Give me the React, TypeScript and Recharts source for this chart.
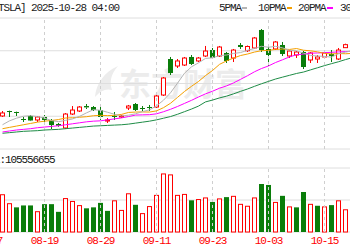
import { ComposedChart, Bar, Line, XAxis, YAxis, CartesianGrid, ReferenceLine } from "recharts";

// trading days shown (two leading days only carry the first axis label)
const leadDates = ["08-07", "08-08"];
const dates = [
  "08-11", "08-12", "08-13", "08-14", "08-15", "08-18", "08-19", "08-20", "08-21", "08-22",
  "08-25", "08-26", "08-27", "08-28", "08-29", "09-02", "09-03", "09-04", "09-05", "09-08",
  "09-09", "09-10", "09-11", "09-12", "09-15", "09-16", "09-17", "09-18", "09-19", "09-22",
  "09-23", "09-24", "09-25", "09-26", "09-29", "09-30", "10-01", "10-02", "10-03", "10-06",
  "10-07", "10-08", "10-09", "10-10", "10-13", "10-14", "10-15", "10-16", "10-17", "10-20",
  "10-21",
];
const tickDates = ["08-07", "08-19", "08-29", "09-11", "09-23", "10-03", "10-15"];

const opens = [
  330.4, 338.0, 336.5, 325.8, 330.4, 324.3, 328.9, 324.3, 318.2, 312.1,
  333.4, 338.0, 345.6, 344.1, 339.5, 322.7, 330.4, 328.9, 342.6, 348.7,
  342.6, 344.1, 344.1, 362.4, 417.4, 406.7, 408.2, 420.5, 414.4, 422.0,
  431.1, 422.0, 426.6, 418.9, 438.8, 430.0, 434.2, 461.7, 432.7, 432.7,
  438.8, 422.0, 423.5, 428.1, 415.9, 417.4, 420.5, 425.0, 417.4, 434.7,
  437.3,
];
const highs = [
  338.0, 338.5, 337.0, 328.9, 331.9, 330.4, 331.9, 325.8, 319.7, 334.9,
  345.6, 345.6, 348.7, 345.6, 344.1, 327.3, 336.5, 331.9, 347.2, 350.2,
  345.6, 347.2, 362.4, 389.9, 420.5, 417.4, 420.5, 423.5, 420.5, 437.3,
  434.2, 437.3, 428.1, 432.7, 441.8, 438.0, 451.0, 463.2, 435.7, 444.9,
  443.4, 431.1, 429.6, 429.6, 428.1, 423.5, 428.1, 431.1, 434.2, 440.8,
  440.3,
];
const lows = [
  328.9, 328.9, 330.4, 321.2, 322.7, 321.2, 319.7, 310.5, 314.0, 310.5,
  331.9, 336.5, 341.1, 338.0, 324.3, 319.7, 324.3, 327.3, 339.5, 338.0,
  338.0, 338.0, 342.6, 360.9, 393.0, 403.7, 406.7, 408.2, 412.8, 420.5,
  417.4, 420.5, 411.3, 412.8, 432.7, 428.1, 432.7, 428.1, 406.7, 431.1,
  422.0, 418.9, 418.9, 402.1, 411.3, 411.3, 419.0, 412.8, 415.9, 434.2,
  428.1,
];
const closes = [
  335.0, 336.5, 335.0, 324.3, 323.5, 328.9, 324.3, 316.6, 315.5, 333.4,
  339.5, 344.1, 343.5, 339.5, 328.9, 324.3, 328.9, 330.4, 345.6, 339.5,
  341.1, 342.6, 360.9, 388.4, 396.0, 414.4, 418.9, 409.8, 418.9, 429.6,
  418.9, 435.7, 414.4, 431.1, 435.7, 436.5, 449.5, 431.1, 423.5, 443.4,
  425.0, 429.6, 428.1, 405.2, 426.6, 420.5, 426.6, 422.0, 431.1, 439.3,
  431.1,
];
// volume, millions of shares
const volumes = [
  118, 90, 77, 83, 83, 65, 87, 87, 63, 106,
  97, 84, 74, 77, 91, 66, 99, 69, 121, 85,
  59, 81, 116, 183, 180, 116, 119, 99, 103, 108,
  94, 105, 109, 113, 88, 82, 108, 150, 147, 94,
  113, 80, 77, 125, 88, 82, 80, 84, 99, 71,
  33,
];
const ma5 = [
  317, 323, 327, 330, 330.8, 329.5, 327.1, 323.4, 321.7, 323.7,
  325.9, 329.8, 335.2, 340, 339.1, 336.1, 333, 330.4, 331.6, 333.7,
  337.1, 339.8, 345.9, 354.5, 365.8, 380.5, 395.7, 405.5, 411.6, 418.3,
  419.2, 422.6, 423.5, 425.9, 427.2, 430.7, 433.4, 436.8, 435.3, 436.8,
  434.5, 430.5, 429.9, 426.3, 422.9, 422, 421.4, 420.2, 425.4, 427.9,
  430,
];
const ma10 = [
  311, 313, 315, 317, 319, 321, 322.5, 323.5, 325, 327.3,
  327.7, 328.5, 329.3, 330.8, 331.4, 331, 331.4, 332.8, 335.8, 336.4,
  336.6, 336.4, 338.2, 343.1, 349.8, 358.8, 367.8, 375.7, 383.1, 392.1,
  399.8, 409.2, 414.5, 418.8, 422.7, 425, 428, 430.1, 430.6, 432,
  432.6, 432, 433.4, 430.8, 429.9, 428.3, 426, 425.1, 425.8, 425.4,
  426,
];
const ma20 = [
  306, 307.5, 309, 310, 311, 312.5, 313.5, 314.5, 315.5, 317,
  318.5, 320, 321.5, 322.5, 323, 324.5, 326, 327.5, 329.5, 331.8,
  332.1, 332.4, 333.7, 336.9, 340.6, 344.9, 349.6, 354.3, 359.4, 364.2,
  368.2, 372.8, 376.3, 380.9, 386.3, 391.9, 397.9, 402.9, 406.8, 412,
  416.2, 420.6, 423.9, 424.8, 426.3, 426.6, 427, 427.6, 428.2, 428.7,
  429.3,
];
const ma30 = [
  304, 305, 306, 307, 307.5, 308, 309, 309.5, 310, 311,
  312, 313, 314, 315, 315.5, 316, 316.5, 317, 318, 319.5,
  321, 322.5, 324.5, 327, 329.5, 333, 337, 341, 345.5, 351.9,
  354.7, 358, 360.7, 364.2, 368, 371.6, 375.7, 379.6, 383.2, 386.8,
  389.7, 392.5, 395.3, 397.5, 400.8, 404, 407.3, 410.3, 413.2, 416.5,
  419.5,
];

const priceTicks = [280, 305, 330, 355, 380, 405, 430, 455, 480];
const volTicks = [0, 50, 100, 150, 200];

const RED = "#ff0000";
const GREEN = "#0a7d0a";
const GRID = "#dedede";
const FONT = "'Liberation Mono', monospace";

const data = [
  ...leadDates.map((date) => ({ date } as any)),
  ...dates.map((date, i) => ({
    date,
    open: opens[i],
    high: highs[i],
    low: lows[i],
    close: closes[i],
    range: [lows[i], highs[i]],
    vol: volumes[i],
    volUp: closes[i] >= (i > 0 ? closes[i - 1] : opens[i]),
    ma5: ma5[i],
    ma10: ma10[i],
    ma20: ma20[i],
    ma30: ma30[i],
  })),
];

const CHART_W = data.length * 7;

function Candle(props: any) {
  const { x, y, width, height, payload } = props;
  if (!payload || payload.open == null) return null;
  const { open, close, high, low } = payload;
  const span = high - low || 1;
  const py = (v: number) => y + ((high - v) / span) * height;
  const cx = x + width / 2;
  const up = close >= open;
  const color = up ? RED : GREEN;
  const top = py(Math.max(open, close));
  const bh = Math.max(py(Math.min(open, close)) - top, 1);
  return (
    <g>
      <line x1={cx} x2={cx} y1={y} y2={top} stroke={color} />
      <line x1={cx} x2={cx} y1={top + bh} y2={y + height} stroke={color} />
      {up ? (
        <rect x={cx - 2} y={top} width={4} height={bh} fill="#fff" stroke={color} />
      ) : (
        <rect x={cx - 2.5} y={top} width={5} height={bh} fill={color} />
      )}
    </g>
  );
}

function VolBar(props: any) {
  const { x, y, width, height, payload } = props;
  if (!payload || payload.vol == null) return null;
  const cx = x + width / 2;
  if (payload.volUp)
    return <rect x={cx - 2} y={y + 0.5} width={4} height={height - 0.5} fill="#fff" stroke={RED} />;
  return <rect x={cx - 2.5} y={y} width={5} height={height} fill={GREEN} />;
}

function DateTick({ x, y, payload }: any) {
  return (
    <text x={x} y={y} dy={10} textAnchor="middle" fill={RED} fontSize={11} fontFamily={FONT} letterSpacing={-1.1}>
      {payload.value}
    </text>
  );
}

const txt = { position: "absolute", fontFamily: FONT, fontSize: 11, letterSpacing: "-1.1px", whiteSpace: "pre", lineHeight: "11px" } as const;

export default function App() {
  return (
    <div style={{ position: "absolute", left: 0, top: 0, width: 350, height: 250, overflow: "hidden", background: "#fff" }}>
      <svg style={{ position: "absolute", left: 0, top: 0 }} width={350} height={250}>
        <path d="M95 97 C96 84 104 72 118 66 C111 74 109 82 112 90 C106 88 100 91 95 97 Z" fill="#ececec" />
        <text x={119} y={96} fontSize={32} fontWeight="bold" fill="#ececec" fontFamily="'Noto Sans CJK SC'">东方财富</text>
      </svg>

      <div style={{ ...txt, left: -7.5, top: 3, color: "#222" }}>[TSLA] 2025-10-28 04:00</div>
      <div style={{ ...txt, left: 219, top: 3, color: "#222" }}>5PMA</div>
      <div style={{ position: "absolute", left: 242, top: 7, width: 5, height: 2, background: "#b4b4b4" }} />
      <div style={{ ...txt, left: 258, top: 3, color: "#222" }}>10PMA</div>
      <div style={{ position: "absolute", left: 287, top: 7, width: 5, height: 2, background: "#f5a000" }} />
      <div style={{ ...txt, left: 298, top: 3, color: "#222" }}>20PMA</div>
      <div style={{ position: "absolute", left: 327, top: 7, width: 6, height: 2, background: "#ff00ff" }} />
      <div style={{ ...txt, left: 340, top: 3, color: "#222" }}>30PMA</div>

      <div style={{ position: "absolute", left: -15, top: 17 }}>
        <ComposedChart width={CHART_W} height={133} data={data} margin={{ top: 1, right: 0, bottom: 1, left: 0 }}>
          <CartesianGrid vertical={false} stroke={GRID} />
          <XAxis dataKey="date" hide />
          <YAxis domain={[280, 480]} ticks={priceTicks} hide />
          {tickDates.map((d) => (
            <ReferenceLine key={d} x={d} stroke="#cfcfcf" strokeDasharray="3 3" />
          ))}
          <Line dataKey="ma30" stroke="#1e8c46" dot={false} strokeWidth={1} isAnimationActive={false} />
          <Line dataKey="ma20" stroke="#ff00ff" dot={false} strokeWidth={1} isAnimationActive={false} />
          <Line dataKey="ma10" stroke="#f5a000" dot={false} strokeWidth={1} isAnimationActive={false} />
          <Line dataKey="ma5" stroke="#b4b4b4" dot={false} strokeWidth={1} isAnimationActive={false} />
          <Bar dataKey="range" barSize={5} shape={<Candle />} isAnimationActive={false} />
        </ComposedChart>
      </div>

      <div style={{ ...txt, left: -17, top: 155, color: "#111" }}>VOL:105556655</div>

      <div style={{ position: "absolute", left: -15, top: 167 }}>
        <ComposedChart width={CHART_W} height={83} data={data} margin={{ top: 1, right: 0, bottom: 0, left: 0 }}>
          <CartesianGrid vertical={false} stroke={GRID} />
          <XAxis dataKey="date" ticks={tickDates} interval={0} axisLine={false} tickLine={false} tickSize={0} height={18} tick={<DateTick />} />
          <YAxis domain={[0, 200]} ticks={volTicks} hide />
          {tickDates.map((d) => (
            <ReferenceLine key={d} x={d} stroke="#cfcfcf" strokeDasharray="3 3" />
          ))}
          <Bar dataKey="vol" barSize={5} shape={<VolBar />} isAnimationActive={false} />
        </ComposedChart>
      </div>
    </div>
  );
}
